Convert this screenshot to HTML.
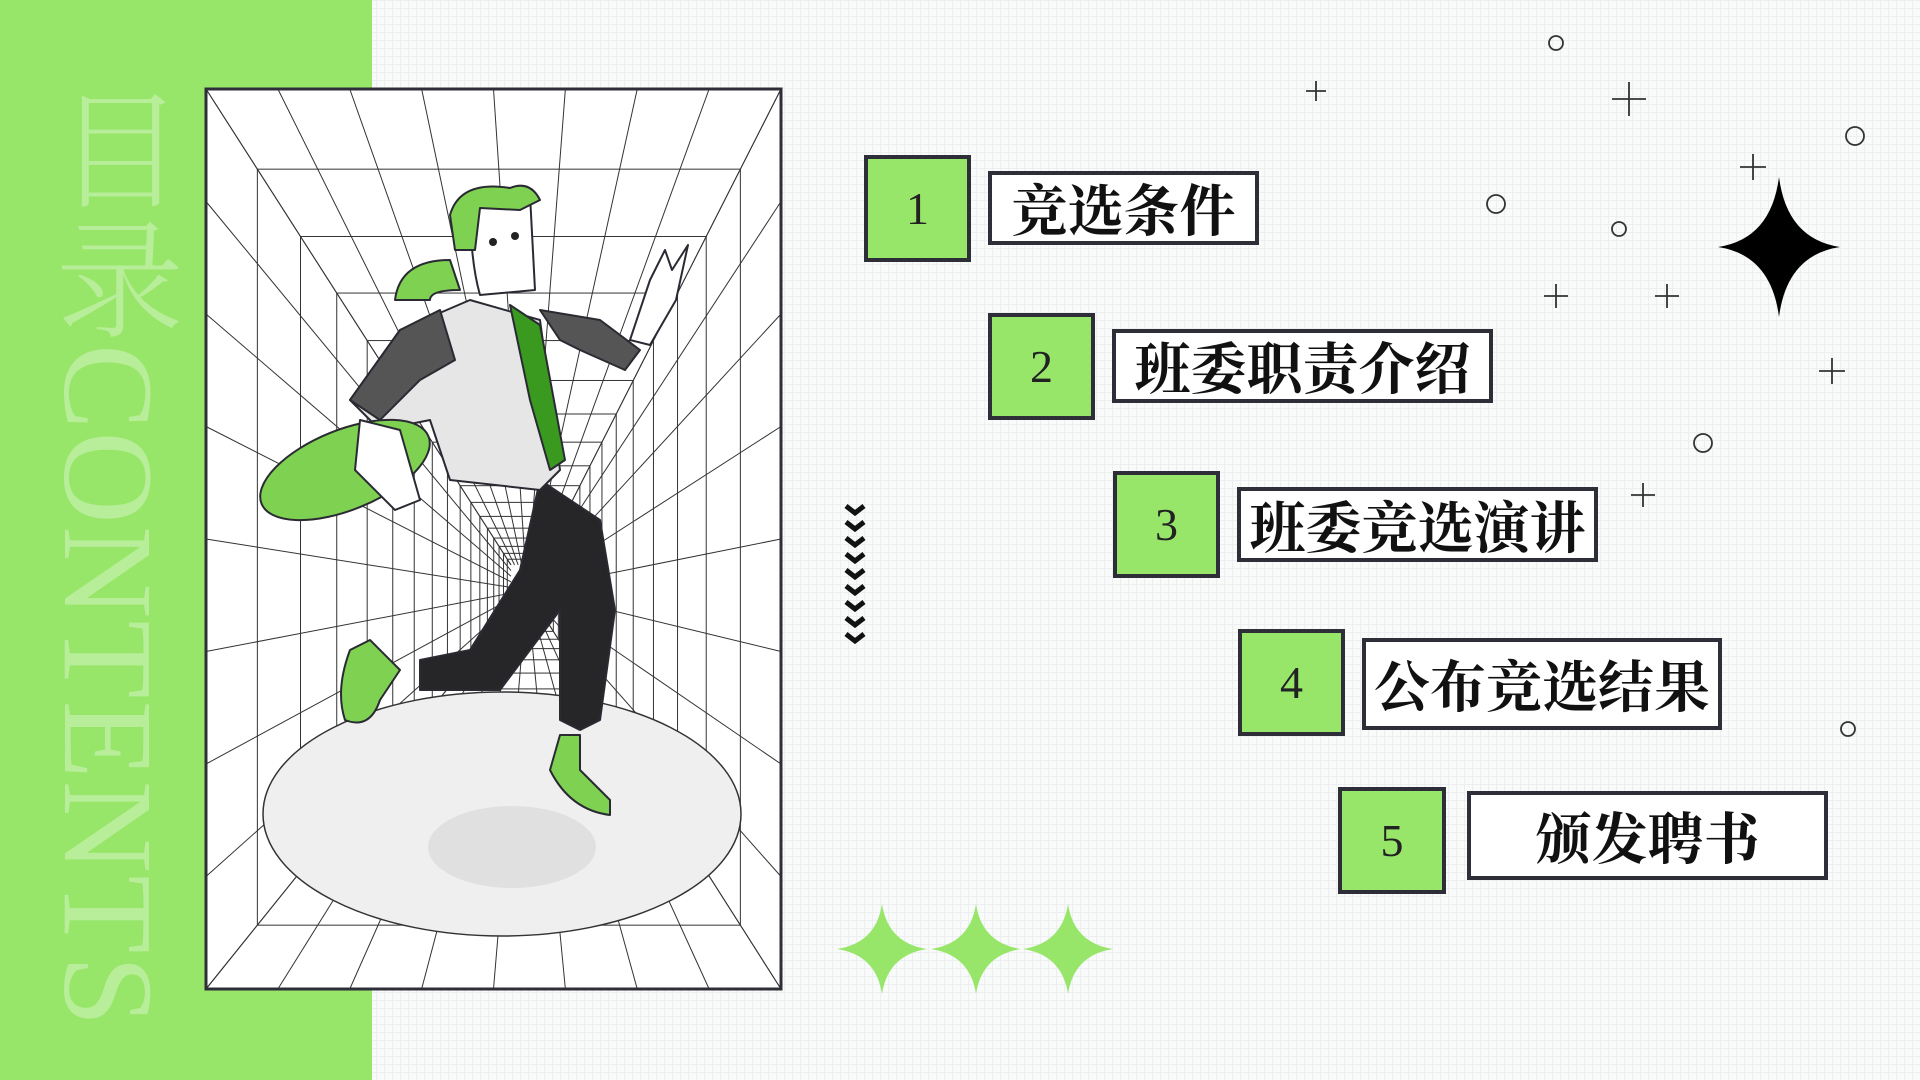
<!DOCTYPE html>
<html><head><meta charset="utf-8">
<style>
html,body{margin:0;padding:0}
body{width:1920px;height:1080px;position:relative;overflow:hidden;background-color:#f9fafa;
background-image:linear-gradient(#eceeef 1px,transparent 1px),linear-gradient(90deg,#eceeef 1px,transparent 1px);
background-size:8px 8px;font-family:"Liberation Serif","Noto Serif CJK SC",serif}
.panel{position:absolute;left:0;top:0;width:372px;height:1080px;background:#97e66a}
.vt{position:absolute;left:38px;top:84px;writing-mode:vertical-rl;font-size:128px;line-height:140px;color:rgba(255,255,255,0.32);font-family:"Liberation Serif","Noto Serif CJK SC",serif;font-weight:300;letter-spacing:2px}
.sq{position:absolute;background:#97e66a;border:4px solid #2e2e38;box-sizing:border-box;display:flex;align-items:center;justify-content:center;font-size:46px;color:#222}
.tb{position:absolute;background:#fff;border:4px solid #2e2e38;box-sizing:border-box;display:flex;align-items:center;justify-content:center;font-size:56px;font-weight:bold;color:#111;font-family:"Liberation Serif","Noto Serif CJK SC",serif;white-space:nowrap}
svg{position:absolute;left:0;top:0}
</style></head><body>
<div class="panel"></div>
<div class="vt">目录CONTENTS</div>

<svg width="1920" height="1080" id="s">
<rect x="206" y="89" width="575" height="900" fill="#fff"/>
<g id="grid" stroke="#333" stroke-width="1" fill="none"></g>
<ellipse cx="502" cy="814" rx="239" ry="122" fill="#efefef" stroke="#333" stroke-width="1.5"/>
<ellipse cx="512" cy="847" rx="84" ry="41" fill="#e0e0e0"/>
<g stroke="#2a2a33" stroke-width="2" stroke-linejoin="round">
 <path d="M520 570 L470 650 L420 660 L420 690 L500 690 L560 610 L560 720 L580 730 L600 720 L615 610 L600 520 L540 480 Z" fill="#262629"/>
 <path d="M350 400 L400 330 L470 300 L540 320 L560 470 L540 490 L450 480 L430 420 L380 430 Z" fill="#e6e6e6"/>
 <path d="M350 400 L400 330 L440 310 L455 360 L420 380 L380 420 Z" fill="#555"/>
 <path d="M540 310 L600 320 L640 350 L625 370 L580 350 L560 340 Z" fill="#555"/>
 <path d="M510 305 L540 325 L565 460 L550 470 L530 400 Z" fill="#3a9a20"/>
 <path d="M395 300 Q400 260 450 260 L460 290 Q430 290 430 300 Z" fill="#7fd152"/>
 <path d="M470 200 Q480 185 530 195 L535 290 L480 295 Q470 260 470 200 Z" fill="#fff"/>
 <path d="M450 215 Q460 180 510 188 Q530 180 540 200 L520 210 L480 208 L475 250 L455 250 Z" fill="#7fd152"/>
 <path d="M630 340 L650 280 L665 250 L672 270 L688 245 L676 300 L650 345 Z" fill="#fff"/>
 <ellipse cx="345" cy="470" rx="90" ry="40" transform="rotate(-22 345 470)" fill="#7fd152"/>
 <path d="M360 420 L400 430 L420 500 L395 510 L355 470 Z" fill="#fff"/>
 <path d="M350 650 Q335 690 345 720 Q370 730 380 700 L400 670 L370 640 Z" fill="#7fd152"/>
 <path d="M560 735 L550 770 Q570 810 610 815 L610 800 L580 770 L580 735 Z" fill="#7fd152"/>
</g>
<circle cx="493" cy="242" r="4" fill="#222"/><circle cx="515" cy="236" r="4" fill="#222"/>
<rect x="206" y="89" width="575" height="900" fill="none" stroke="#2e2e38" stroke-width="3"/>
<g id="chev" fill="none" stroke="#111" stroke-width="5"></g>
<g fill="#97e66a">
 <path d="M0 -45 Q6 -6 45 0 Q6 6 0 45 Q-6 6 -45 0 Q-6 -6 0 -45Z" transform="translate(882 949)"/>
 <path d="M0 -45 Q6 -6 45 0 Q6 6 0 45 Q-6 6 -45 0 Q-6 -6 0 -45Z" transform="translate(976 949)"/>
 <path d="M0 -45 Q6 -6 45 0 Q6 6 0 45 Q-6 6 -45 0 Q-6 -6 0 -45Z" transform="translate(1068 949)"/>
</g>
<path d="M0 -70 Q8 -8 61 0 Q8 8 0 70 Q-8 8 -61 0 Q-8 -8 0 -70Z" transform="translate(1779 247)" fill="#000"/>
<g fill="none" stroke="#333" stroke-width="1.8">
 <circle cx="1556" cy="43" r="7"/><circle cx="1855" cy="136" r="9"/><circle cx="1496" cy="204" r="9"/>
 <circle cx="1619" cy="229" r="7"/><circle cx="1703" cy="443" r="9"/><circle cx="1848" cy="729" r="7"/>
 <path d="M1306 91h20M1316 81v20 M1612 99h34M1629 82v34 M1740 167h26M1753 154v26 M1544 296h24M1556 284v24 M1655 296h24M1667 284v24 M1819 371h26M1832 358v26 M1631 495h24M1643 483v24"/>
</g>
</svg>

<div class="sq" style="left:864px;top:155px;width:107px;height:107px">1</div>
<div class="tb" style="left:988px;top:171px;width:271px;height:74px">竞选条件</div>
<div class="sq" style="left:988px;top:313px;width:107px;height:107px">2</div>
<div class="tb" style="left:1112px;top:329px;width:381px;height:74px">班委职责介绍</div>
<div class="sq" style="left:1113px;top:471px;width:107px;height:107px">3</div>
<div class="tb" style="left:1237px;top:487px;width:361px;height:75px">班委竞选演讲</div>
<div class="sq" style="left:1238px;top:629px;width:107px;height:107px">4</div>
<div class="tb" style="left:1362px;top:638px;width:360px;height:92px">公布竞选结果</div>
<div class="sq" style="left:1338px;top:787px;width:108px;height:107px">5</div>
<div class="tb" style="left:1467px;top:791px;width:361px;height:89px">颁发聘书</div>

<script>
var ns="http://www.w3.org/2000/svg",g=document.getElementById("grid");
var X0=206,Y0=89,X1=781,Y1=989,vx=527,vy=590;
function ln(a,b,c,d){var l=document.createElementNS(ns,"line");l.setAttribute("x1",a);l.setAttribute("y1",b);l.setAttribute("x2",c);l.setAttribute("y2",d);g.appendChild(l);}
var s=1;for(var i=0;i<16;i++){s*=0.84;var r=document.createElementNS(ns,"rect");
r.setAttribute("x",vx+(X0-vx)*s);r.setAttribute("y",vy+(Y0-vy)*s);r.setAttribute("width",(X1-X0)*s);r.setAttribute("height",(Y1-Y0)*s);g.appendChild(r);}
var n=8,sm=0.05;
for(var k=0;k<=n;k++){var x=X0+(X1-X0)*k/n;ln(x,Y0,vx+(x-vx)*sm,vy+(Y0-vy)*sm);ln(x,Y1,vx+(x-vx)*sm,vy+(Y1-vy)*sm);
var y=Y0+(Y1-Y0)*k/n;ln(X0,y,vx+(X0-vx)*sm,vy+(y-vy)*sm);ln(X1,y,vx+(X1-vx)*sm,vy+(y-vy)*sm);}
var c=document.getElementById("chev");
for(var j=0;j<9;j++){var p=document.createElementNS(ns,"path");var y=506+j*16;p.setAttribute("d","M846 "+y+" L855 "+(y+7)+" L864 "+y);c.appendChild(p);}
</script>
</body></html>
